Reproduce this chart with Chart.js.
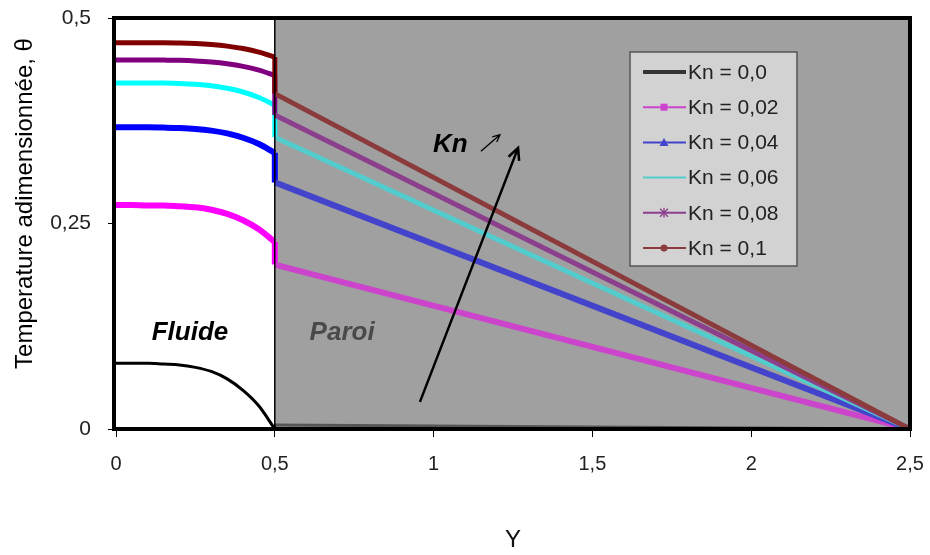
<!DOCTYPE html>
<html lang="fr">
<head>
  <meta charset="utf-8">
  <title>Temperature adimensionnée</title>
  <script src="https://cdn.jsdelivr.net/npm/chart.js@4"></script>
  <style>
html, body {
  margin: 0;
  padding: 0;
  background: #fff;
}
#wrap {
  width: 930px;
  height: 555px;
}
  </style>
</head>
<body>
  <div id="wrap"><canvas id="temp-chart"></canvas></div>
  <script type="text/javascript">
// position Y in the fluid (0 - 0.5) and in the wall (0.5 - 2.5)
const yFluid = [0, 0.05, 0.1, 0.15, 0.2, 0.25, 0.3, 0.35, 0.4, 0.45, 0.5];
const yWall = [0.5, 2.5];

const labels = ['Kn = 0,0', 'Kn = 0,02', 'Kn = 0,04', 'Kn = 0,06', 'Kn = 0,08', 'Kn = 0,1'];

// temperature, fluid part
const kn000Fluid = [0.080, 0.080, 0.080, 0.079, 0.078, 0.075, 0.070, 0.061, 0.047, 0.028, 0.000];
const kn002Fluid = [0.2725, 0.2725, 0.272, 0.272, 0.271, 0.2697, 0.2667, 0.2617, 0.254, 0.243, 0.2275];
const kn004Fluid = [0.367, 0.367, 0.367, 0.3667, 0.3662, 0.3651, 0.363, 0.3596, 0.3543, 0.3467, 0.336];
const kn006Fluid = [0.421, 0.421, 0.421, 0.4208, 0.4203, 0.4193, 0.4175, 0.4145, 0.410, 0.4033, 0.394];
const kn008Fluid = [0.449, 0.449, 0.449, 0.4488, 0.4485, 0.4478, 0.4465, 0.4444, 0.4412, 0.4365, 0.430];
const kn010Fluid = [0.470, 0.470, 0.470, 0.4699, 0.4696, 0.4689, 0.4677, 0.4658, 0.4628, 0.4585, 0.4525];

// wall part (linear)
const kn000Wall = [0.005, 0];
const kn002Wall = [0.200, 0];
const kn004Wall = [0.300, 0];
const kn006Wall = [0.355, 0];
const kn008Wall = [0.382, 0];
const kn010Wall = [0.408, 0];

const xTicks = [0, 0.5, 1, 1.5, 2, 2.5];
const yTicks = [0, 0.25, 0.5];

const fluidColors = ['#000000', '#ff00ff', '#0000ff', '#00ffff', '#800080', '#800000'];
const wallColors = ['#555555', '#cc44cc', '#4343cc', '#52cccc', '#8c3f8c', '#8b3b3b'];
const widths = [3, 6, 6, 5, 5, 5];
const markers = ['none', 'rect', 'triangle', 'none', 'star', 'circle'];

const fluids = [kn000Fluid, kn002Fluid, kn004Fluid, kn006Fluid, kn008Fluid, kn010Fluid];
const walls = [kn000Wall, kn002Wall, kn004Wall, kn006Wall, kn008Wall, kn010Wall];

const datasets = [];
fluids.forEach((fluid, i) => {
  // fluid profile (smooth)
  datasets.push({
    label: labels[i],
    data: yFluid.map((x, k) => ({ x: x, y: fluid[k] })),
    showLine: true,
    pointRadius: 0,
    borderWidth: widths[i],
    borderColor: fluidColors[i],
    cubicInterpolationMode: 'monotone',
    order: 10 - i
  });
  // jump at the interface, then linear profile in the wall
  const wallPts = [{ x: yWall[0], y: fluid[fluid.length - 1] }].concat(yWall.map((x, k) => ({ x: x, y: walls[i][k] })));
  datasets.push({
    label: labels[i] + ' (paroi)',
    data: wallPts,
    showLine: true,
    pointRadius: 0,
    borderWidth: widths[i],
    borderColor: wallColors[i],
    order: 10 - i,
    segment: {
      borderColor: ctx => ctx.p0DataIndex === 0 ? fluidColors[i] : wallColors[i]
    }
  });
});

const fmt = v => String(v).replace('.', ',');

// gray wall, frame, texts, arrow and legend
const decor = {
  id: 'decor',
  beforeDraw(chart) {
    const c = chart.ctx;
    c.save();
    c.fillStyle = '#fff';
    c.fillRect(0, 0, chart.width, chart.height);
    c.restore();
  },
  beforeDatasetsDraw(chart) {
    const c = chart.ctx, a = chart.chartArea, x = chart.scales.x;
    c.save();
    c.fillStyle = '#a0a0a0';
    c.fillRect(x.getPixelForValue(0.5), a.top, x.getPixelForValue(2.5) - x.getPixelForValue(0.5), a.bottom - a.top);
    c.restore();
  },
  afterDatasetsDraw(chart) {
    const c = chart.ctx, a = chart.chartArea, x = chart.scales.x, y = chart.scales.y;
    c.save();
    c.strokeStyle = '#000';
    c.lineWidth = 1.5;
    c.beginPath();
    c.moveTo(x.getPixelForValue(0.5), a.top);
    c.lineTo(x.getPixelForValue(0.5), a.bottom);
    c.stroke();
    c.lineWidth = 4;
    c.strokeRect(a.left - 2, a.top, a.right - a.left + 2, a.bottom - a.top);

    // texts in the plot
    c.font = 'bold italic 26px "Liberation Sans", Arial, sans-serif';
    c.textAlign = 'center';
    c.textBaseline = 'alphabetic';
    c.fillStyle = '#000';
    c.fillText('Fluide', x.getPixelForValue(0.233), y.getPixelForValue(0.108));
    c.fillStyle = '#4a4a4a';
    c.fillText('Paroi', x.getPixelForValue(0.712), y.getPixelForValue(0.108));
    c.fillStyle = '#000';
    c.textAlign = 'left';
    c.fillText('Kn', x.getPixelForValue(0.998), y.getPixelForValue(0.337));

    // arrows
    arrow(c, x.getPixelForValue(0.957), y.getPixelForValue(0.033), x.getPixelForValue(1.266), y.getPixelForValue(0.342), 2.5, 13);
    arrow(c, x.getPixelForValue(1.149), y.getPixelForValue(0.338), x.getPixelForValue(1.209), y.getPixelForValue(0.358), 1.3, 8);
    c.restore();

    drawLegend(chart);
  }
};

function arrow(c, x1, y1, x2, y2, w, head) {
  const ang = Math.atan2(y2 - y1, x2 - x1);
  c.strokeStyle = '#000';
  c.lineWidth = w;
  c.beginPath();
  c.moveTo(x1, y1);
  c.lineTo(x2, y2);
  c.moveTo(x2 - head * Math.cos(ang - 0.45), y2 - head * Math.sin(ang - 0.45));
  c.lineTo(x2, y2);
  c.lineTo(x2 - head * Math.cos(ang + 0.45), y2 - head * Math.sin(ang + 0.45));
  c.stroke();
}

function drawLegend(chart) {
  const c = chart.ctx;
  const bx = 630, by = 52, bw = 167, bh = 214;
  c.save();
  c.fillStyle = '#d2d2d2';
  c.fillRect(bx, by, bw, bh);
  c.strokeStyle = '#555';
  c.lineWidth = 1.5;
  c.strokeRect(bx, by, bw, bh);
  c.font = '21px "Liberation Sans", Arial, sans-serif';
  c.textBaseline = 'middle';
  c.textAlign = 'left';
  labels.forEach((label, i) => {
    const ry = by + 20 + i * 35.2;
    const col = i === 0 ? '#333' : wallColors[i];
    c.strokeStyle = col;
    c.lineWidth = i === 0 ? 4 : 2;
    c.beginPath();
    c.moveTo(643, ry);
    c.lineTo(686, ry);
    c.stroke();
    c.fillStyle = col;
    const mx = 664;
    if (markers[i] === 'rect') {
      c.fillRect(mx - 3.5, ry - 3.5, 7, 7);
    } else if (markers[i] === 'triangle') {
      c.beginPath();
      c.moveTo(mx, ry - 4.5);
      c.lineTo(mx + 4.5, ry + 3.5);
      c.lineTo(mx - 4.5, ry + 3.5);
      c.closePath();
      c.fill();
    } else if (markers[i] === 'circle') {
      c.beginPath();
      c.arc(mx, ry, 3.5, 0, Math.PI * 2);
      c.fill();
    } else if (markers[i] === 'star') {
      c.lineWidth = 1.3;
      c.beginPath();
      c.moveTo(mx - 4, ry - 4); c.lineTo(mx + 4, ry + 4);
      c.moveTo(mx + 4, ry - 4); c.lineTo(mx - 4, ry + 4);
      c.moveTo(mx, ry - 5); c.lineTo(mx, ry + 5);
      c.stroke();
    }
    c.fillStyle = '#222';
    c.fillText(label, 688, ry + 1);
  });
  c.restore();
}

const config = {
  type: 'scatter',
  data: { datasets: datasets },
  options: {
    responsive: true,
    maintainAspectRatio: false,
    animation: false,
    layout: {
      padding: { top: 18, right: 20, bottom: 0, left: 0 }
    },
    scales: {
      x: {
        type: 'linear',
        min: 0,
        max: 2.5,
        afterBuildTicks: (s) => { s.ticks = xTicks.map(v => ({ value: v })); },
        afterFit: (s) => { s.height = 126; s.paddingLeft = 0; s.paddingRight = 0; },
        border: { display: false },
        grid: { drawOnChartArea: false, drawTicks: true, tickLength: 8, color: '#000' },
        ticks: {
          padding: 15,
          color: '#222',
          font: { family: '"Liberation Sans", Arial', size: 20 },
          callback: v => fmt(v)
        },
        title: {
          display: true,
          text: 'Y',
          color: '#111',
          padding: { top: 0, bottom: 0 },
          font: { family: '"Liberation Sans", Arial', size: 24 }
        }
      },
      y: {
        type: 'linear',
        min: 0,
        max: 0.5,
        afterBuildTicks: (s) => { s.ticks = yTicks.map(v => ({ value: v })); },
        afterFit: (s) => { s.width = 116; s.paddingTop = 0; s.paddingBottom = 0; },
        border: { display: false },
        grid: { drawOnChartArea: false, drawTicks: true, tickLength: 8, color: '#000' },
        ticks: {
          padding: 17,
          color: '#222',
          font: { family: '"Liberation Sans", Arial', size: 21 },
          callback: v => fmt(v)
        },
        title: {
          display: true,
          text: '      Temperature adimensionnée, θ',
          color: '#000',
          padding: { top: 11, bottom: 0 },
          font: { family: '"Liberation Sans", Arial', size: 24 }
        }
      }
    },
    plugins: {
      legend: { display: false },
      tooltip: { enabled: false }
    }
  },
  plugins: [decor]
};

const tempChart = new Chart(document.getElementById('temp-chart'), config);
</script>
</body>
</html>
